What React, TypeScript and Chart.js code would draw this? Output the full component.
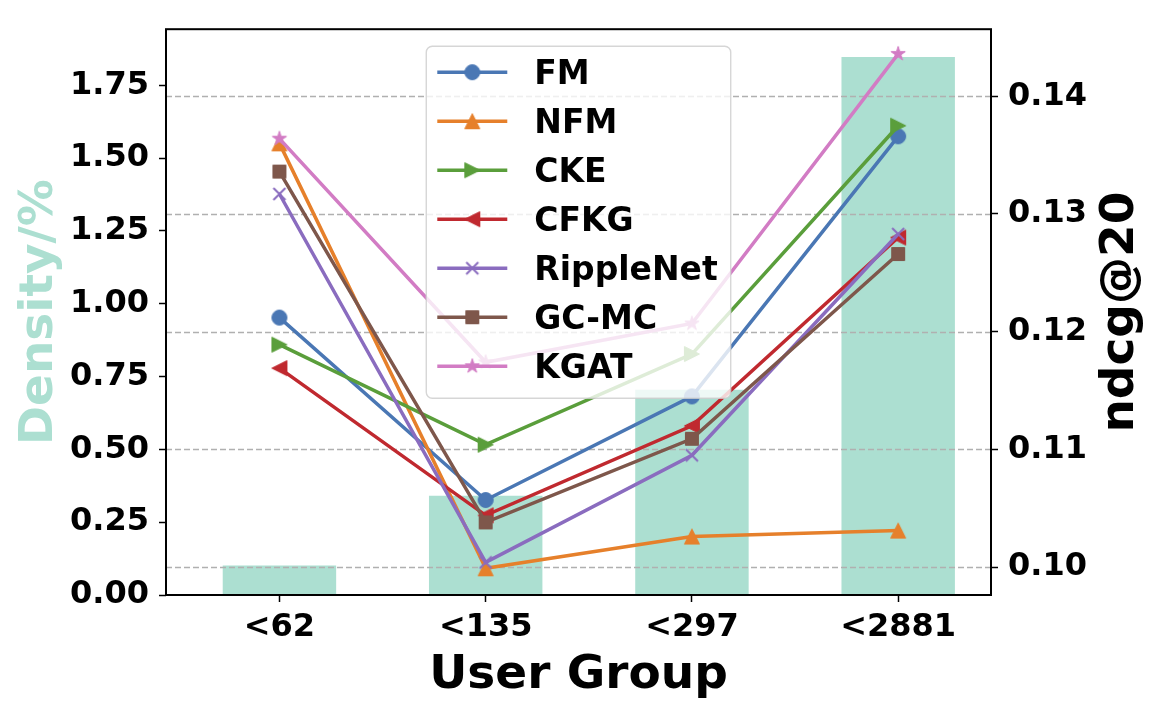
import React, { useRef, useEffect } from 'react';
import Chart from 'chart.js/auto';

// user groups and their density (left axis, bars)
const groups = ['<62', '<135', '<297', '<2881'];
const density = [0.101, 0.341, 0.705, 1.847];

// ndcg@20 per model (right axis, lines)
const fm = [0.1212, 0.1057, 0.1145, 0.1366];
const nfm = [0.1360, 0.0999, 0.1026, 0.1031];
const cke = [0.1189, 0.1104, 0.1181, 0.1375];
const cfkg = [0.1169, 0.1044, 0.1120, 0.1280];
const rippleNet = [0.1317, 0.1004, 0.1095, 0.1283];
const gcmc = [0.1336, 0.1038, 0.1109, 0.1266];
const kgat = [0.1364, 0.1174, 0.1207, 0.1436];

const densityTicks = [0, 0.25, 0.5, 0.75, 1.0, 1.25, 1.5, 1.75];
const ndcgTicks = [0.10, 0.11, 0.12, 0.13, 0.14];

const FONT = "'DejaVu Sans', sans-serif";
const BAR_COLOR = 'rgb(172, 223, 209)';

type Marker = 'circle' | 'up' | 'right' | 'left' | 'x' | 'square' | 'star';

const series: { label: string; values: number[]; color: string; marker: Marker }[] = [
    { label: 'FM', values: fm, color: '#4a77b4', marker: 'circle' },
    { label: 'NFM', values: nfm, color: '#e6802b', marker: 'up' },
    { label: 'CKE', values: cke, color: '#5a9e3b', marker: 'right' },
    { label: 'CFKG', values: cfkg, color: '#c0292f', marker: 'left' },
    { label: 'RippleNet', values: rippleNet, color: '#8a6cbf', marker: 'x' },
    { label: 'GC-MC', values: gcmc, color: '#7e574b', marker: 'square' },
    { label: 'KGAT', values: kgat, color: '#d27cc4', marker: 'star' },
];

// matplotlib-like markers drawn once onto small canvases
function makeMarker(kind: Marker, color: string): HTMLCanvasElement {
    const s = 24;
    const c = document.createElement('canvas');
    c.width = s;
    c.height = s;
    const ctx = c.getContext('2d')!;
    ctx.translate(s / 2, s / 2);
    ctx.fillStyle = color;
    ctx.strokeStyle = color;
    ctx.lineWidth = 1;
    const h = 7.5;
    ctx.beginPath();
    if (kind === 'x') {
        ctx.lineWidth = 2;
        ctx.moveTo(-6, -6);
        ctx.lineTo(6, 6);
        ctx.moveTo(6, -6);
        ctx.lineTo(-6, 6);
        ctx.stroke();
        return c;
    }
    if (kind === 'circle') {
        ctx.arc(0, 0, h, 0, Math.PI * 2);
    } else if (kind === 'up') {
        ctx.moveTo(0, -h);
        ctx.lineTo(-h, h);
        ctx.lineTo(h, h);
        ctx.closePath();
    } else if (kind === 'right') {
        ctx.moveTo(h, 0);
        ctx.lineTo(-h, -h);
        ctx.lineTo(-h, h);
        ctx.closePath();
    } else if (kind === 'left') {
        ctx.moveTo(-h, 0);
        ctx.lineTo(h, -h);
        ctx.lineTo(h, h);
        ctx.closePath();
    } else if (kind === 'square') {
        ctx.rect(-6.5, -6.5, 13, 13);
    } else if (kind === 'star') {
        for (let i = 0; i < 10; i++) {
            const r = i % 2 === 0 ? h : h * 0.382;
            const a = -Math.PI / 2 + (i * Math.PI) / 5;
            if (i === 0) ctx.moveTo(r * Math.cos(a), r * Math.sin(a));
            else ctx.lineTo(r * Math.cos(a), r * Math.sin(a));
        }
        ctx.closePath();
    }
    ctx.fill();
    ctx.stroke();
    return c;
}

const figurePlugin = {
    id: 'figure',
    // dashed grid of the right axis sits above the bars but under the lines
    afterDatasetDraw(chart: any, args: any) {
        if (args.index !== 0) return;
        const { ctx, chartArea } = chart;
        const y1 = chart.scales.y1;
        ctx.save();
        ctx.strokeStyle = '#b0b0b0';
        ctx.lineWidth = 1.4;
        ctx.setLineDash([6, 3]);
        ndcgTicks.forEach((t) => {
            const py = Math.round(y1.getPixelForValue(t)) + 0.5;
            ctx.beginPath();
            ctx.moveTo(chartArea.left, py);
            ctx.lineTo(chartArea.right, py);
            ctx.stroke();
        });
        ctx.restore();
    },
    afterDatasetsDraw(chart: any) {
        const { ctx, chartArea } = chart;
        const { left, right, top, bottom } = chartArea;

        // frame
        ctx.save();
        ctx.strokeStyle = '#000';
        ctx.lineWidth = 2;
        ctx.strokeRect(left, top, right - left, bottom - top);
        ctx.restore();

        // legend, upper center
        ctx.save();
        ctx.font = `bold 33px ${FONT}`;
        const textW = Math.max(...series.map((s) => ctx.measureText(s.label).width));
        const boxW = 11 + 70 + 27 + textW + 13;
        const boxH = 352;
        const bx = (left + right) / 2 - boxW / 2;
        const by = top + 17;
        const r = 6;
        ctx.beginPath();
        ctx.moveTo(bx + r, by);
        ctx.arcTo(bx + boxW, by, bx + boxW, by + boxH, r);
        ctx.arcTo(bx + boxW, by + boxH, bx, by + boxH, r);
        ctx.arcTo(bx, by + boxH, bx, by, r);
        ctx.arcTo(bx, by, bx + boxW, by, r);
        ctx.closePath();
        ctx.fillStyle = 'rgba(255,255,255,0.8)';
        ctx.fill();
        ctx.strokeStyle = 'rgba(204,204,204,0.8)';
        ctx.lineWidth = 1.4;
        ctx.stroke();

        chart.data.datasets.forEach((ds: any, i: number) => {
            if (ds.type !== 'line') return;
            const row = i - 1;
            const cy = by + 26 + row * 49;
            const x0 = bx + 11;
            ctx.strokeStyle = ds.borderColor;
            ctx.lineWidth = 3.5;
            ctx.beginPath();
            ctx.moveTo(x0, cy);
            ctx.lineTo(x0 + 70, cy);
            ctx.stroke();
            const img = ds.pointStyle as HTMLCanvasElement;
            ctx.drawImage(img, x0 + 35 - img.width / 2, cy - img.height / 2);
            ctx.fillStyle = '#000';
            ctx.textBaseline = 'alphabetic';
            ctx.textAlign = 'left';
            ctx.fillText(ds.label, x0 + 97, cy + 12);
        });
        ctx.restore();
    },
    afterDraw(chart: any) {
        const { ctx, chartArea } = chart;
        const midY = (chartArea.top + chartArea.bottom) / 2;
        const midX = (chartArea.left + chartArea.right) / 2;
        ctx.save();
        ctx.textAlign = 'center';
        ctx.textBaseline = 'alphabetic';
        ctx.font = `bold 47px ${FONT}`;
        ctx.fillStyle = '#000';
        ctx.fillText('User Group', midX, 688);

        ctx.save();
        ctx.translate(52, midY);
        ctx.rotate(-Math.PI / 2);
        ctx.fillStyle = BAR_COLOR;
        ctx.fillText('Density/%', 0, 0);
        ctx.restore();

        ctx.save();
        ctx.translate(1133, midY);
        ctx.rotate(-Math.PI / 2);
        ctx.fillStyle = '#000';
        ctx.fillText('ndcg@20', 0, 0);
        ctx.restore();
        ctx.restore();
    },
};

const tickFont = { family: FONT, size: 32, weight: 'bold' as const };

const UserGroupChart = () => {
    const chartRef = useRef<HTMLCanvasElement>(null);
    const chartInstance = useRef<Chart | null>(null);

    useEffect(() => {
        if (!chartRef.current) return;
        const ctx = chartRef.current.getContext('2d');
        if (!ctx) return;
        if (chartInstance.current) chartInstance.current.destroy();

        const lineSets = series.map((s, i) => ({
            type: 'line' as const,
            label: s.label,
            data: s.values.map((v, j) => ({ x: j, y: v })),
            yAxisID: 'y1',
            borderColor: s.color,
            backgroundColor: s.color,
            borderWidth: 3.5,
            pointStyle: makeMarker(s.marker, s.color),
            pointRadius: 7,
            tension: 0,
            order: 20 - i,
        }));

        chartInstance.current = new Chart(ctx, {
            type: 'bar',
            data: {
                datasets: [
                    {
                        type: 'bar' as const,
                        label: 'Density',
                        data: density.map((v, j) => ({ x: j, y: v })),
                        yAxisID: 'y',
                        backgroundColor: BAR_COLOR,
                        categoryPercentage: 1,
                        barPercentage: 0.55,
                        order: 100,
                    },
                    ...lineSets,
                ] as any,
            },
            options: {
                animation: false,
                responsive: true,
                maintainAspectRatio: false,
                layout: { padding: { top: 22 } },
                plugins: {
                    legend: { display: false },
                    tooltip: { enabled: false },
                },
                scales: {
                    x: {
                        type: 'linear',
                        position: 'bottom',
                        min: -0.55,
                        max: 3.45,
                        offset: false,
                        afterFit: (s: any) => { s.height = 117; },
                        afterBuildTicks: (s: any) => { s.ticks = groups.map((_, i) => ({ value: i })); },
                        ticks: {
                            callback: (v: any) => groups[v] ?? '',
                            font: tickFont,
                            color: '#000',
                            padding: 6,
                            maxRotation: 0,
                            autoSkip: false,
                        },
                        grid: { offset: false, drawOnChartArea: false, drawTicks: true, tickLength: 7, tickColor: '#000', tickWidth: 1.5 },
                        border: { display: false },
                    },
                    y: {
                        type: 'linear',
                        position: 'left',
                        min: 0,
                        max: 1.9425,
                        afterFit: (s: any) => { s.width = 166; },
                        afterBuildTicks: (s: any) => { s.ticks = densityTicks.map((v) => ({ value: v })); },
                        ticks: {
                            callback: (v: any) => Number(v).toFixed(2),
                            font: tickFont,
                            color: '#000',
                            padding: 10,
                        },
                        grid: { drawOnChartArea: false, drawTicks: true, tickLength: 7, tickColor: '#000', tickWidth: 1.5 },
                        border: { display: false },
                    },
                    y1: {
                        type: 'linear',
                        position: 'right',
                        min: 0.09763,
                        max: 0.1457,
                        afterFit: (s: any) => { s.width = 167; },
                        afterBuildTicks: (s: any) => { s.ticks = ndcgTicks.map((v) => ({ value: v })); },
                        ticks: {
                            callback: (v: any) => Number(v).toFixed(2),
                            font: tickFont,
                            color: '#000',
                            padding: 10,
                        },
                        grid: { drawOnChartArea: false, drawTicks: true, tickLength: 7, tickColor: '#000', tickWidth: 1.5 },
                        border: { display: false },
                    },
                },
            },
            plugins: [figurePlugin],
        });

        return () => {
            if (chartInstance.current) {
                chartInstance.current.destroy();
                chartInstance.current = null;
            }
        };
    }, []);

    return <canvas ref={chartRef}></canvas>;
};

export default function App() {
    return (
        <div style={{ position: 'fixed', left: 0, top: 0, width: 1158, height: 712, background: '#fff' }}>
            <UserGroupChart />
        </div>
    );
}
